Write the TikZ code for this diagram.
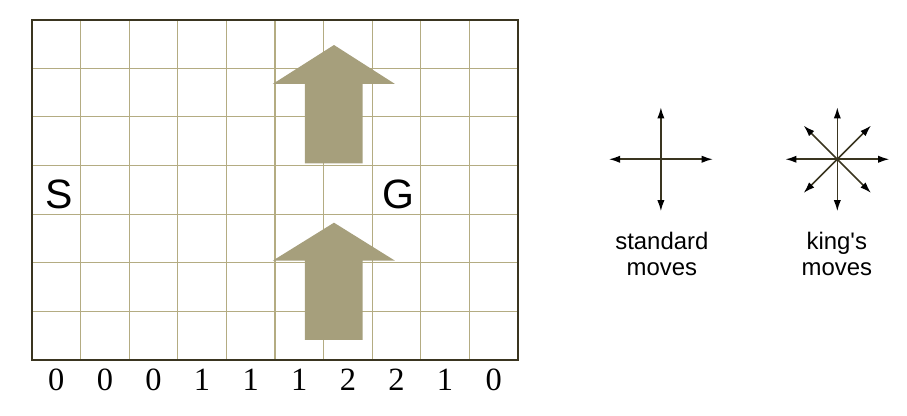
\documentclass[tikz,border=0pt]{standalone}
\usepackage{fontspec}
\setmainfont{Liberation Serif}
\setsansfont{Liberation Sans}[Ligatures=TeXOff]
\usetikzlibrary{arrows.meta}
\definecolor{gridline}{RGB}{180,172,130}
\definecolor{frame}{RGB}{58,53,32}
\definecolor{wind}{RGB}{166,159,124}
\begin{document}
\begin{tikzpicture}[
	move/.style={draw=frame,line width=0.9pt,-{Latex[length=2.3mm,width=1.5mm,color=black]}},
	letter/.style={font=\sffamily\fontsize{24}{24}\selectfont},
	strength/.style={font=\fontsize{19}{19}\selectfont},
	caption/.style={font=\sffamily\fontsize{14}{15.5}\selectfont,align=center}]
	\useasboundingbox (-0.658,-1.132) rectangle (18.004,7.407);
	
	\draw [gridline,line width=0.6pt](0,0) grid (10,7);
	
	\fill [wind](5.617,4.047)--(5.617,5.679)--(4.953,5.679)--(6.214,6.481)--(7.469,5.679)--(6.805,5.679)--(6.805,4.047)--cycle;
	\fill [wind](5.617,0.412)--(5.617,2.043)--(4.953,2.043)--(6.214,2.825)--(7.469,2.043)--(6.805,2.043)--(6.805,0.412)--cycle;
	
	\draw [frame,line width=1pt](0,0) rectangle (10,7);
	
	\node [letter] (start) at (0.55,3.4) {S};
	\node [letter] (goal) at (7.53,3.4) {G};
	
	\foreach \w [count=\i from 0] in {0,0,0,1,1,1,2,2,1,0}
		\node [strength] (w\i) at (\i+0.5,-0.4) {\w};
	
	\coordinate (std) at (12.94,4.13);
	\coordinate (king) at (16.57,4.13);
	
	\foreach \a in {0,90,180,270}
		\draw [move](std)--++(\a:1.07);
	\foreach \a in {0,90,180,270}
		\draw [move](king)--++(\a:1.07);
	\foreach \a in {45,135,225,315}
		\draw [move](king)--++(\a:0.98);
	
	\node [caption] (stdlabel) at (12.96,2.18) {standard\\moves};
	\node [caption] (kinglabel) at (16.56,2.18) {king's\\moves};
	
\end{tikzpicture}
\end{document}
